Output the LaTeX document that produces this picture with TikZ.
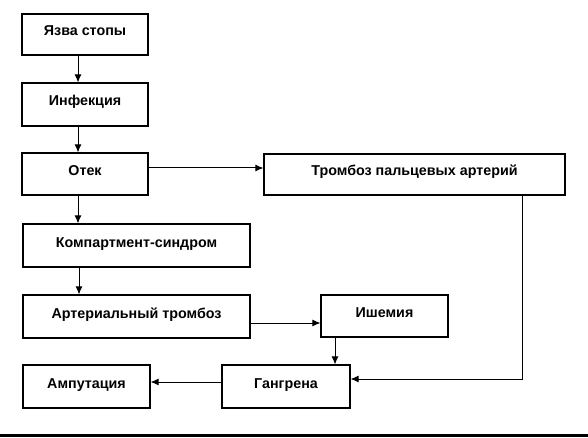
\documentclass[tikz,border=0pt]{standalone}
\usepackage{fontspec}
\setmainfont{Liberation Sans}
\usetikzlibrary{arrows.meta,calc}
\begin{document}
\begin{tikzpicture}[x=1pt,y=-1pt,
  box/.style={draw, line width=1.1pt, rectangle, inner sep=0pt, font=\fontsize{14.3}{16}\selectfont\bfseries,
    text height=10pt, text depth=7pt},
  arr/.style={line width=1pt, -{Latex[length=8pt,width=7pt]}},
  ln/.style={line width=1pt}]
\useasboundingbox (0,0) rectangle (588,438);
\node[box, minimum width=126pt, minimum height=41pt] (a) at (85,34.5) {Язва стопы};
\node[box, minimum width=126pt, minimum height=43pt] (b) at (85,104.5) {Инфекция};
\node[box, minimum width=126pt, minimum height=42pt] (c) at (85,174) {Отек};
\node[box, minimum width=301pt, minimum height=41pt] (d) at (414.5,174.5) {Тромбоз пальцевых артерий};
\node[box, minimum width=227pt, minimum height=43pt] (e) at (136.5,245.5) {Компартмент-синдром};
\node[box, minimum width=227pt, minimum height=43pt] (f) at (136.5,316.5) {Артериальный тромбоз};
\node[box, minimum width=127pt, minimum height=42pt] (g) at (384.5,316) {Ишемия};
\node[box, minimum width=128pt, minimum height=43pt] (h) at (286,386.5) {Гангрена};
\node[box, minimum width=127pt, minimum height=43pt] (i) at (86.5,386.5) {Ампутация};
\draw[arr] ($(a.south)+(-7,0)$) -- ($(b.north)+(-7,0)$);
\draw[arr] ($(b.south)+(-7,0)$) -- ($(c.north)+(-7,0)$);
\draw[arr] ($(c.south)+(-7,0)$) -- ($(e.north)+(-58.5,0)$);
\draw[arr] ($(e.south)+(-57.5,0)$) -- ($(f.north)+(-57.5,0)$);
\draw[arr] ($(c.east)+(0,-6)$) -- ($(d.west)+(0,-6.5)$);
\draw[arr] ($(f.east)+(0,6.5)$) -- ($(g.west)+(0,7)$);
\draw[arr] ($(g.south)+(-49.5,0)$) -- ($(h.north)+(49,0)$);
\coordinate (k) at ($(d.south)+(107.5,0)$);
\draw[arr] (k) |- ($(h.east)+(0,-7.5)$);
\draw[arr] ($(h.west)+(0,-4.5)$) -- ($(i.east)+(0,-4.5)$);
\fill (0,433.5) rectangle (588,436.5);
\end{tikzpicture}
\end{document}
